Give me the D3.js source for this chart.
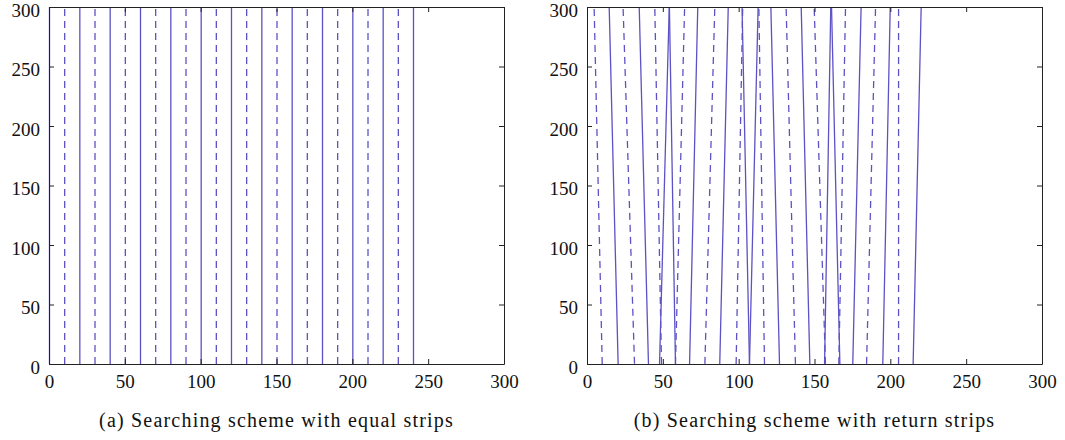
<!DOCTYPE html>
<html>
<head>
<meta charset="utf-8">
<script src="https://cdn.jsdelivr.net/npm/d3@7"></script>
<style>
body { margin: 0; background: #fff; }
</style>
</head>
<body>
<svg width="1065" height="440"></svg>
<script>
// ticks, same on both panels and both axes
var tickValues = [0, 50, 100, 150, 200, 250, 300];

// (a) equal strips: vertical tracks (x position)
var equalSolid = [0, 20, 40, 60, 80, 100, 120, 140, 160, 180, 200, 220, 240];
var equalDashed = [10, 30, 50, 70, 90, 110, 130, 150, 170, 190, 210, 230];

// (b) return strips: x where each track meets the top (y=300) and the bottom (y=0)
var returnSolidTop = [14.3, 34.1, 53.9, 54.0, 72.7, 92.8, 101.9, 112.5, 120.9, 140.9, 160.4, 160.9, 180.4, 199.6, 220.0];
var returnSolidBottom = [20.2, 40.2, 47.5, 58.0, 67.3, 87.2, 106.8, 106.8, 126.6, 146.6, 156.3, 166.4, 174.9, 194.7, 214.7];
var returnDashedTop = [4.4, 23.5, 44.4, 64.0, 83.9, 102.3, 113.0, 131.0, 149.5, 170.1, 189.9, 205.1];
var returnDashedBottom = [9.7, 31.0, 48.8, 58.0, 77.4, 98.0, 116.7, 137.1, 156.9, 165.7, 184.0, 205.1];

var captions = ["(a) Searching scheme with equal strips", "(b) Searching scheme with return strips"];

var svg = d3.select("svg");
var lineColor = "#5d52c4";
var serif = "'Liberation Serif', 'Times New Roman', serif";

function zip(top, bottom) {
    return top.map(function (t, i) { return { top: t, bottom: bottom[i] }; });
}

function drawPanel(left, right, solid, dashed, caption) {
    var x = d3.scaleLinear().domain([0, 300]).range([left, right]);
    var y = d3.scaleLinear().domain([0, 300]).range([364, 7]);
    var g = svg.append("g");

    // tracks
    g.selectAll("line.solid").data(solid).enter().append("line")
        .attr("class", "solid")
        .attr("x1", d => x(d.bottom) + 0.5).attr("y1", y(0))
        .attr("x2", d => x(d.top) + 0.5).attr("y2", y(300))
        .attr("stroke", lineColor).attr("stroke-width", 1.3);

    g.selectAll("line.dashed").data(dashed).enter().append("line")
        .attr("class", "dashed")
        .attr("x1", d => x(d.top) + 0.5).attr("y1", y(300) + 2)
        .attr("x2", d => x(d.bottom) + 0.5).attr("y2", y(0))
        .attr("stroke", lineColor).attr("stroke-width", 1.3)
        .attr("stroke-dasharray", "7,5");

    // box with inward ticks
    g.append("g").attr("transform", "translate(0," + y(0) + ")")
        .call(d3.axisBottom(x).tickValues(tickValues).tickSize(-5).tickSizeOuter(0).tickPadding(11));
    g.append("g").attr("transform", "translate(0," + y(300) + ")")
        .call(d3.axisTop(x).tickValues(tickValues).tickSize(-5).tickSizeOuter(0).tickFormat(""));
    var yAxis = g.append("g").attr("transform", "translate(" + x(0) + ",0)")
        .call(d3.axisLeft(y).tickValues(tickValues).tickSize(-5).tickSizeOuter(0).tickPadding(9));
    yAxis.selectAll(".tick text").attr("dy", "0.48em");
    g.append("g").attr("transform", "translate(" + x(300) + ",0)")
        .call(d3.axisRight(y).tickValues(tickValues).tickSize(-5).tickSizeOuter(0).tickFormat(""));

    g.selectAll(".domain, .tick line").attr("stroke", "#222");
    g.selectAll(".tick text")
        .attr("font-family", serif).attr("font-size", 19).attr("fill", "#111");

    g.append("text")
        .attr("x", (left + right) / 2).attr("y", 427)
        .attr("text-anchor", "middle")
        .attr("font-family", serif).attr("font-size", 20)
        .attr("letter-spacing", 1.2)
        .attr("fill", "#111")
        .text(caption);
}

drawPanel(49, 504, zip(equalSolid, equalSolid), zip(equalDashed, equalDashed), captions[0]);
drawPanel(587, 1042, zip(returnSolidTop, returnSolidBottom), zip(returnDashedTop, returnDashedBottom), captions[1]);
</script>
</body>
</html>
